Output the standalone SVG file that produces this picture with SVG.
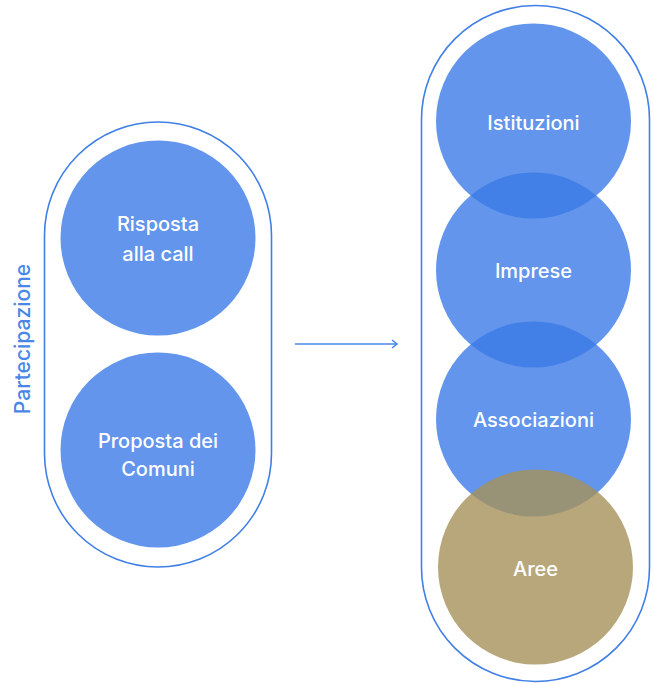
<svg xmlns="http://www.w3.org/2000/svg" width="654" height="683" viewBox="0 0 654 683">
<style>
.pill{fill:none;stroke:#3f7fe6;stroke-width:1.6}
.blue{fill:#3b7be6;fill-opacity:0.8}
.gold{fill:#a69159;fill-opacity:0.8}
.lbl{font-family:Inter,"Liberation Sans",sans-serif;font-size:20px;font-weight:500;fill:#ffffff;text-anchor:middle}
.side{font-family:Inter,"Liberation Sans",sans-serif;font-size:21px;font-weight:500;fill:#4a86e8;text-anchor:middle}
</style>
<defs>
<marker id="chev" markerWidth="10" markerHeight="10" refX="7" refY="5" orient="auto" markerUnits="userSpaceOnUse">
<path d="M2,1 L7,5 L2,9" fill="none" stroke="#4a86e8" stroke-width="1.6"/>
</marker>
</defs>
<rect width="654" height="683" fill="#ffffff"/>
<g id="partecipazione">
<rect class="pill" x="44.5" y="122" width="227" height="445" rx="113.5"/>
<text class="side" transform="translate(30,339) rotate(-90)">Partecipazione</text>
</g>
<g id="risposta">
<circle class="blue" cx="158" cy="238" r="97.5"/>
<text class="lbl" x="158" y="231">Risposta</text>
<text class="lbl" x="158" y="261">alla call</text>
</g>
<g id="proposta">
<circle class="blue" cx="158" cy="450" r="97.5"/>
<text class="lbl" x="158" y="448">Proposta dei</text>
<text class="lbl" x="158" y="476">Comuni</text>
</g>
<g id="gruppo">
<rect class="pill" x="421.5" y="5.5" width="228" height="676" rx="114"/>
</g>
<g id="istituzioni">
<circle class="blue" cx="533.5" cy="121" r="97.5"/>
<text class="lbl" x="533.5" y="130">Istituzioni</text>
</g>
<g id="imprese">
<circle class="blue" cx="533.5" cy="270" r="97.5"/>
<text class="lbl" x="533.5" y="278">Imprese</text>
</g>
<g id="associazioni">
<circle class="blue" cx="533.5" cy="419" r="97.5"/>
<text class="lbl" x="533.5" y="427">Associazioni</text>
</g>
<g id="aree">
<circle class="gold" cx="535.5" cy="567" r="97.5"/>
<text class="lbl" x="535.5" y="576">Aree</text>
</g>
<g id="connectors">
<line x1="295" y1="344" x2="397" y2="344" stroke="#4a86e8" stroke-width="1.6" marker-end="url(#chev)"/>
</g>
</svg>
